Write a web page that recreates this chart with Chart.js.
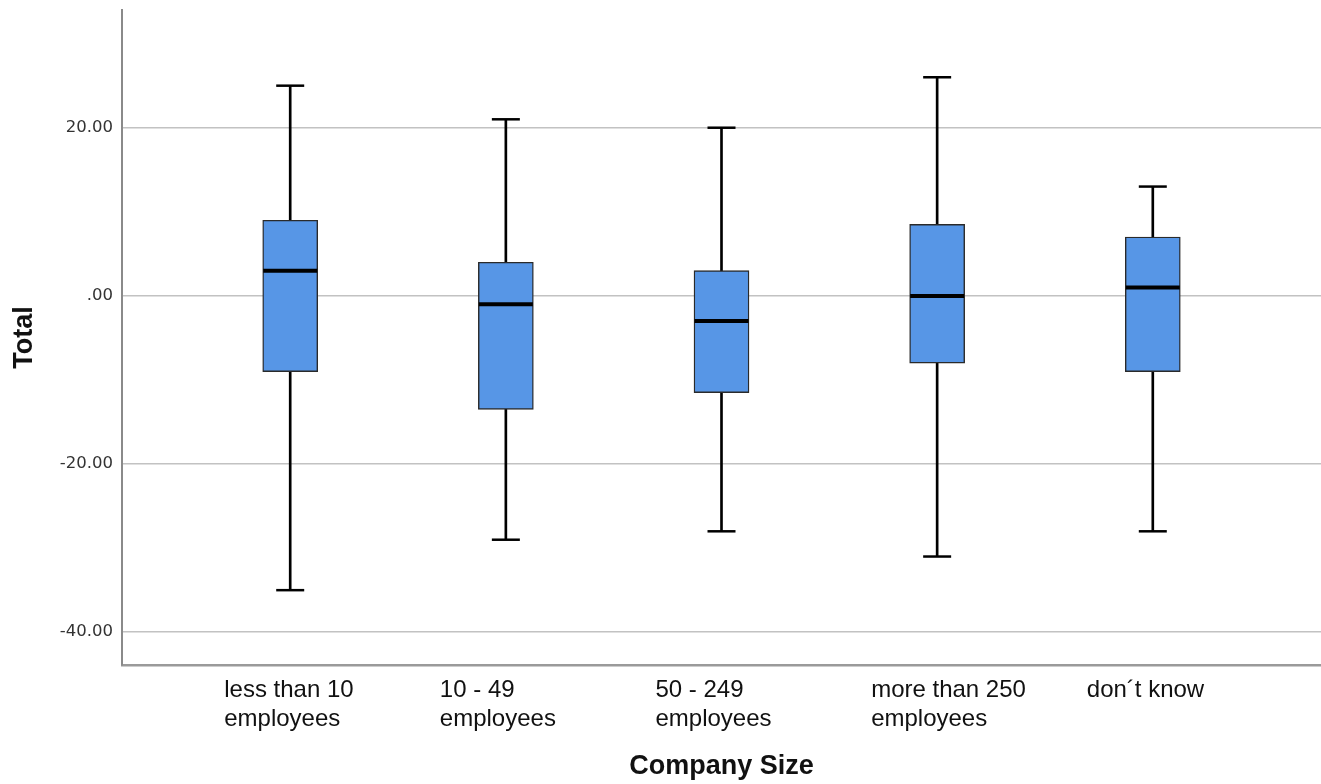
<!DOCTYPE html>
<html>
<head>
<meta charset="utf-8">
<script src="https://cdn.jsdelivr.net/npm/chart.js@4"></script>
<style>
  html, body { margin: 0; padding: 0; background: #ffffff; }
  #wrap { width: 1321px; height: 784px; position: relative; }
</style>
</head>
<body>
<div id="wrap"><canvas id="c" width="1321" height="784"></canvas></div>
<script>
// ---- data ----
const categories = [
  ['less than 10', 'employees'],
  ['10 - 49', 'employees'],
  ['50 - 249', 'employees'],
  ['more than 250', 'employees'],
  ['don\u00b4t know']
];
const whiskerMin = [-35, -29, -28, -31, -28];
const q1Values   = [-9, -13.5, -11.5, -8, -9];
const medians    = [3, -1, -3, 0, 1];
const q3Values   = [9, 4, 3, 8.5, 7];
const whiskerMax = [25, 21, 20, 26, 13];
const yTickValues = [-40, -20, 0, 20];
const yTitle = 'Total';
const xTitle = 'Company Size';

// ---- build datasets ----
const idx = categories.map((_, i) => i);
const whiskerData = idx.map(i => ({ x: i, y: [whiskerMin[i], whiskerMax[i]] }));
const boxData = idx.map(i => ({ x: i, y: [q1Values[i], q3Values[i]] }));
const medianData = idx.map(i => ({ x: i, y: medians[i] }));
const capData = idx.flatMap(i => [{ x: i, y: whiskerMin[i] }, { x: i, y: whiskerMax[i] }]);

Chart.defaults.font.family = "'Liberation Sans', Arial, sans-serif";

new Chart(document.getElementById('c'), {
  type: 'bar',
  data: {
    datasets: [
      {
        type: 'bar', data: whiskerData, order: 4, grouped: false,
        barThickness: 2, backgroundColor: '#000000', borderWidth: 0
      },
      {
        type: 'bar', data: boxData, order: 3, grouped: false,
        barThickness: 55, backgroundColor: '#5796E6',
        borderColor: '#2a2a2a', borderWidth: 1.4, borderSkipped: false
      },
      {
        type: 'scatter', data: capData, order: 2,
        pointStyle: 'line', pointRadius: 14, pointBorderWidth: 2.5,
        pointBorderColor: '#000000', pointBackgroundColor: '#000000', showLine: false
      },
      {
        type: 'scatter', data: medianData, order: 1,
        pointStyle: 'line', pointRadius: 27, pointBorderWidth: 4,
        pointBorderColor: '#000000', pointBackgroundColor: '#000000', showLine: false
      }
    ]
  },
  options: {
    responsive: false,
    animation: false,
    events: [],
    layout: { autoPadding: false, padding: { top: 10, left: 0, right: 0, bottom: 0 } },
    plugins: { legend: { display: false }, tooltip: { enabled: false } },
    scales: {
      x: {
        type: 'linear',
        min: -0.78, max: 4.78,
        offset: false,
        afterBuildTicks: s => { s.ticks = idx.map(i => ({ value: i })); },
        afterFit: s => { s.height = 119; s.paddingLeft = 0; s.paddingRight = 0; },
        grid: { display: false, drawTicks: false, offset: false },
        border: { display: true, color: '#9a9a9a', width: 2.5 },
        ticks: {
          autoSkip: false, maxRotation: 0, minRotation: 0,
          align: 'start', labelOffset: -66, padding: 11,
          color: '#111111',
          font: { size: 24, family: "'Liberation Sans', Arial, sans-serif", lineHeight: 1.2 },
          callback: v => categories[v]
        },
        title: {
          display: true, text: xTitle, color: '#111111',
          font: { size: 27, weight: 'bold', family: "'Liberation Sans', Arial, sans-serif", lineHeight: 1.2 },
          padding: { top: 0, bottom: 1 }
        }
      },
      y: {
        type: 'linear',
        min: -43.9, max: 34,
        afterBuildTicks: s => { s.ticks = yTickValues.map(v => ({ value: v })); },
        afterFit: s => { s.width = 122; s.paddingTop = 0; s.paddingBottom = 0; },
        grid: { color: '#c2c2c2', lineWidth: 1.6, drawTicks: false },
        border: { display: true, color: '#8a8a8a', width: 2 },
        ticks: {
          padding: 9, color: '#333333',
          font: { size: 16.5, family: "'DejaVu Sans', sans-serif" },
          callback: v => (v === 0 ? '.00' : v.toFixed(2))
        },
        title: {
          display: true, text: yTitle, color: '#111111',
          font: { size: 27, weight: 'bold', family: "'Liberation Sans', Arial, sans-serif", lineHeight: 1.2 },
          padding: { top: 8, bottom: 0 }
        }
      }
    }
  }
});
</script>
</body>
</html>
